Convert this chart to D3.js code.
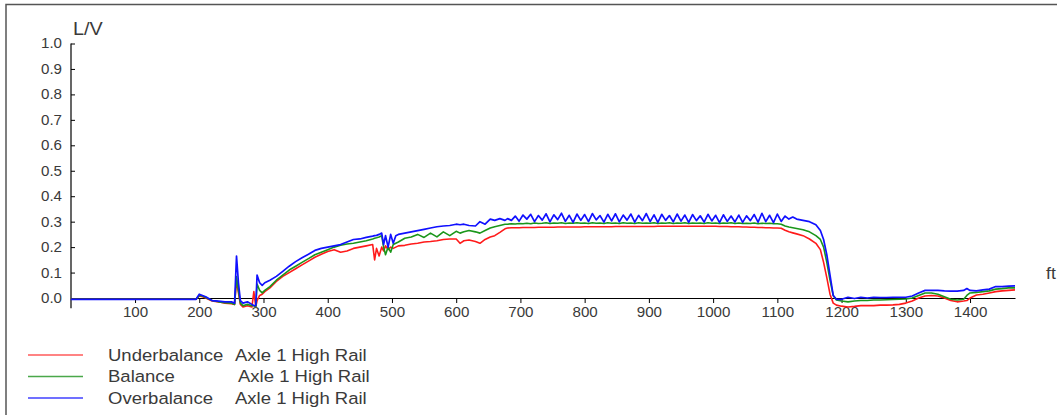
<!DOCTYPE html>
<html><head><meta charset="utf-8">
<script src="https://cdn.jsdelivr.net/npm/d3@7"></script>
<style>
body{margin:0;background:#fff;}
svg{display:block;font-family:"Liberation Sans",Arial,sans-serif;}
</style></head><body>
<svg id="c" width="1057" height="415"></svg>
<script>
const distance = [0,100,195,200,205,210,220,230,240,250,255,258,261,264,268,275,282,285,288,290,294,298,302,310,320,330,340,350,360,370,380,390,400,410,420,430,440,450,460,470,473,476,480,484,487,490,494,498,502,506,510,520,530,540,550,560,570,580,590,600,606,612,620,630,637,645,653,660,668,676,
680,686,692,698,704,710,716,722,728,734,
740,746,752,758,764,770,776,782,788,794,
800,806,812,818,824,830,836,842,848,854,
860,866,872,878,884,890,896,902,908,914,
920,926,932,938,944,950,956,962,968,974,
980,986,992,998,1004,1010,1016,1022,1028,1034,
1040,1046,1052,1058,1064,1070,1076,1082,1088,1094,
1100,1106,1112,1118,1124,1130,
1140,1150,1160,1167,1172,1177,1182,1187,1192,1200,1210,1220,1230,1240,1250,1260,1270,1280,1290,1300,1310,1320,1330,1340,1350,1360,1370,1380,1390,1395,1400,1410,1420,1430,1440,1450,1460,1470];

const underbalance = [-0.005,-0.005,-0.005,0.008,0.005,0.0,-0.012,-0.015,-0.02,-0.022,-0.025,0.07,0.02,-0.025,-0.035,-0.03,-0.035,0.025,-0.035,-0.01,0.01,0.015,0.025,0.04,0.065,0.085,0.1,0.115,0.13,0.145,0.16,0.172,0.183,0.19,0.18,0.185,0.195,0.2,0.205,0.21,0.15,0.195,0.165,0.2,0.185,0.205,0.19,0.2,0.195,0.2,0.205,0.207,0.212,0.215,0.22,0.222,0.225,0.23,0.232,0.232,0.215,0.225,0.228,0.222,0.215,0.23,0.24,0.245,0.258,0.272,
0.275,0.276,0.276,0.276,0.277,0.277,0.277,0.277,0.278,0.278,
0.278,0.278,0.278,0.279,0.279,0.279,0.279,0.279,0.279,0.279,
0.28,0.28,0.28,0.28,0.28,0.28,0.28,0.28,0.281,0.281,
0.281,0.281,0.281,0.281,0.281,0.281,0.281,0.281,0.281,0.282,
0.282,0.282,0.282,0.282,0.282,0.282,0.282,0.282,0.282,0.282,
0.282,0.282,0.282,0.282,0.282,0.281,0.281,0.281,0.28,0.28,
0.28,0.279,0.279,0.278,0.278,0.277,0.277,0.276,0.276,0.275,
0.275,0.274,0.266,0.26,0.256,0.252,
0.245,0.232,0.215,0.19,0.14,0.08,0.015,-0.02,-0.028,-0.032,-0.035,-0.033,-0.03,-0.03,-0.03,-0.028,-0.028,-0.027,-0.025,-0.02,-0.012,0.0,0.008,0.01,0.008,0.0,-0.01,-0.015,-0.012,-0.01,0.0,0.012,0.015,0.02,0.025,0.028,0.03,0.032];

const balance = [-0.005,-0.005,-0.005,0.01,0.008,0.002,-0.01,-0.015,-0.018,-0.02,-0.025,0.084,0.03,-0.02,-0.03,-0.025,-0.03,-0.03,-0.035,0.055,0.03,0.02,0.03,0.045,0.07,0.09,0.11,0.125,0.14,0.155,0.17,0.18,0.19,0.2,0.207,0.212,0.215,0.22,0.225,0.232,0.235,0.237,0.24,0.245,0.2,0.17,0.2,0.18,0.21,0.215,0.22,0.235,0.24,0.25,0.238,0.255,0.24,0.26,0.245,0.262,0.255,0.26,0.265,0.26,0.255,0.265,0.275,0.28,0.285,0.29,
0.29,0.292,0.291,0.293,0.292,0.294,0.292,0.295,0.293,0.294,
0.296,0.293,0.295,0.294,0.296,0.293,0.295,0.294,0.296,0.294,
0.295,0.293,0.296,0.294,0.295,0.293,0.296,0.294,0.295,0.293,
0.296,0.294,0.295,0.293,0.296,0.294,0.295,0.294,0.296,0.293,
0.295,0.294,0.296,0.293,0.295,0.294,0.296,0.293,0.295,0.294,
0.295,0.293,0.296,0.294,0.295,0.293,0.295,0.294,0.296,0.293,
0.295,0.293,0.294,0.293,0.295,0.292,0.294,0.293,0.294,0.292,
0.292,0.29,0.283,0.279,0.276,0.273,
0.268,0.26,0.245,0.23,0.2,0.14,0.07,0.01,-0.008,-0.012,-0.015,-0.012,-0.01,-0.01,-0.008,-0.008,-0.007,-0.006,-0.005,-0.004,0.0,0.01,0.02,0.02,0.015,0.005,-0.005,-0.008,-0.005,0.01,0.02,0.022,0.025,0.028,0.035,0.037,0.04,0.04];

const overbalance = [-0.005,-0.005,-0.005,0.015,0.01,0.005,-0.01,-0.012,-0.015,-0.015,-0.02,0.165,0.06,-0.01,-0.02,-0.015,-0.025,-0.03,-0.03,0.09,0.06,0.05,0.06,0.07,0.085,0.105,0.125,0.143,0.158,0.172,0.187,0.195,0.2,0.205,0.21,0.22,0.23,0.232,0.238,0.243,0.245,0.246,0.25,0.255,0.21,0.245,0.2,0.25,0.215,0.245,0.25,0.255,0.26,0.265,0.27,0.275,0.28,0.283,0.285,0.29,0.288,0.29,0.285,0.283,0.3,0.29,0.31,0.305,0.312,0.305,
0.312,0.305,0.322,0.302,0.326,0.31,0.329,0.3,0.324,0.306,
0.331,0.299,0.327,0.308,0.333,0.301,0.325,0.297,0.33,0.305,
0.328,0.3,0.332,0.307,0.324,0.298,0.329,0.303,0.331,0.299,
0.326,0.306,0.33,0.298,0.325,0.304,0.332,0.3,0.327,0.297,
0.329,0.305,0.324,0.299,0.33,0.302,0.326,0.297,0.328,0.304,
0.323,0.298,0.329,0.303,0.325,0.296,0.327,0.301,0.322,0.299,
0.326,0.297,0.323,0.304,0.328,0.298,0.333,0.3,0.325,0.296,
0.33,0.301,0.322,0.31,0.318,0.31,
0.305,0.3,0.288,0.265,0.23,0.17,0.09,0.01,-0.005,-0.005,0.003,-0.002,0.003,0.0,0.003,0.002,0.002,0.003,0.003,0.003,0.008,0.02,0.03,0.03,0.03,0.028,0.027,0.027,0.03,0.037,0.03,0.028,0.032,0.035,0.045,0.045,0.047,0.048];

const yTicks = [0.0,0.1,0.2,0.3,0.4,0.5,0.6,0.7,0.8,0.9,1.0];
const xTicks = [100,200,300,400,500,600,700,800,900,1000,1100,1200,1300,1400];
const seriesNames = ["Underbalance","Balance","Overbalance"];
const seriesSuffix = "Axle 1 High Rail";
const seriesColors = ["#ff1a1a","#1a961a","#1010ff"];
const legendColors = ["#ff5a5a","#4aa84a","#4040ff"];

const svg = d3.select("#c");
const x = d3.scaleLinear().domain([0,1470]).range([70.8,1015]);
const y = d3.scaleLinear().domain([-0.04,1.0]).range([308.2,43.5]);
const txt = "#3a3a3a";
const SX = 1.08;

// frame
svg.append("rect").attr("x",6).attr("y",4.5).attr("width",1100).attr("height",500)
  .attr("fill","none").attr("stroke","#555").attr("stroke-width",1.5);

function label(tx,ty,size,s,str){
  return svg.append("text").attr("transform","translate("+tx+","+ty+") scale("+s+",1)")
    .attr("fill",txt).style("font-size",size+"px").text(str);
}

// y axis
const yAxis = svg.append("g").attr("transform","translate(71,0)")
  .call(d3.axisRight(y).tickValues(yTicks).tickSize(4).tickFormat(d3.format(".1f")));
yAxis.select(".domain").attr("d","M0,"+y(1.0)+"V"+y(-0.04)).attr("stroke","#000").attr("stroke-width",1.2);
yAxis.selectAll(".tick line").attr("stroke","#000");
yAxis.selectAll(".tick text").attr("x",-9/SX).attr("text-anchor","end").attr("fill",txt)
  .attr("transform","scale("+SX+",1)")
  .style("font-size","14px").style("font-family","Liberation Sans, Arial, sans-serif");

// x axis at y=0
const xAxis = svg.append("g").attr("transform","translate(0,"+y(0)+")")
  .call(d3.axisBottom(x).tickValues(xTicks).tickSize(5).tickSizeOuter(0).tickFormat(d3.format("d")));
xAxis.select(".domain").attr("stroke","#000").attr("stroke-width",1.2);
xAxis.selectAll(".tick line").attr("stroke","#000");
xAxis.selectAll(".tick text").attr("y",9).attr("fill",txt)
  .attr("transform","scale("+SX+",1)")
  .style("font-size","14px").style("font-family","Liberation Sans, Arial, sans-serif");

label(73,35,18,1.1,"L/V");
label(1046,279,16,1.1,"ft");

const data = [underbalance,balance,overbalance];
const line = d3.line().x((d,i)=>x(distance[i])).y(d=>y(d));
data.forEach((s,k)=>{
  svg.append("path").datum(s).attr("d",line).attr("fill","none")
    .attr("stroke",seriesColors[k]).attr("stroke-width",k===2?1.7:1.6).attr("stroke-linejoin","round");
});

// legend
const ly = [355,376.5,398];
const suffixX = [235,238,235];
seriesNames.forEach((n,k)=>{
  svg.append("line").attr("x1",28).attr("x2",83).attr("y1",ly[k]).attr("y2",ly[k])
    .attr("stroke",legendColors[k]).attr("stroke-width",1.5);
  label(108,ly[k]+5.7,17,1.09,n);
  label(suffixX[k],ly[k]+5.7,17,1.09,seriesSuffix);
});
</script></body></html>
